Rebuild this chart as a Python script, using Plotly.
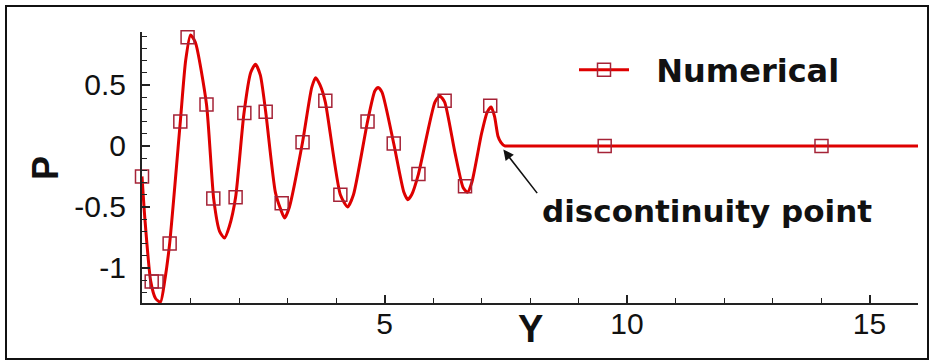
import plotly.graph_objects as go

# ---- data ----
curve_x = [0.00, 0.06, 0.18, 0.28, 0.38, 0.47, 0.57, 0.79, 0.90, 1.00, 1.10, 1.33, 1.48, 1.60, 1.70,
           1.80, 1.93, 2.10, 2.24, 2.34, 2.44, 2.55, 2.75, 2.86, 2.94, 3.04, 3.31, 3.50, 3.58, 3.67,
           3.78, 4.09, 4.24, 4.36, 4.65, 4.80, 4.87, 4.95, 5.19, 5.40, 5.48, 5.56, 5.70, 6.04, 6.14,
           6.24, 6.45, 6.62, 6.71, 6.80, 7.00, 7.12, 7.20, 7.27, 7.34, 7.40, 7.48, 7.56, 7.70, 15.8, 16.0]
curve_y = [-0.25, -0.60, -1.11, -1.25, -1.28, -1.10, -0.80, 0.20, 0.70, 0.91, 0.85, 0.34, -0.44, -0.70, -0.755,
           -0.66, -0.42, 0.26, 0.60, 0.67, 0.58, 0.28, -0.38, -0.52, -0.59, -0.50, 0.03, 0.48, 0.56, 0.50,
           0.36, -0.40, -0.50, -0.40, 0.20, 0.45, 0.48, 0.44, 0.02, -0.38, -0.44, -0.40, -0.23, 0.36, 0.41,
           0.36, -0.05, -0.34, -0.38, -0.30, 0.10, 0.28, 0.32, 0.24, 0.08, 0.03, 0.00, 0.00, 0.00, 0.00, 0.00]

marker_x = [0.00, 0.20, 0.30, 0.57, 0.79, 0.94, 1.33, 1.47, 1.93, 2.11, 2.55, 2.88, 3.31, 3.78, 4.09,
            4.65, 5.19, 5.70, 6.24, 6.66, 7.18, 9.54, 14.01]
marker_y = [-0.25, -1.11, -1.11, -0.80, 0.20, 0.89, 0.34, -0.43, -0.42, 0.27, 0.28, -0.47, 0.03, 0.37, -0.40,
            0.20, 0.02, -0.23, 0.37, -0.33, 0.33, 0.00, 0.00]

x_tickvals = [5, 10, 15]
x_ticktext = ["5", "10", "15"]
y_tickvals = [-1, -0.5, 0, 0.5]
y_ticktext = ["-1", "-0.5", "0", "0.5"]

series_name = "Numerical"
x_title = "Y"
y_title = "P"
note_text = "discontinuity point"

LINE_RED = "rgb(222,0,0)"
MARK_RED = "rgb(165,35,55)"

fig = go.Figure()
fig.add_trace(go.Scatter(x=curve_x, y=curve_y, mode="lines",
                         line=dict(color=LINE_RED, width=3, shape="spline", smoothing=0.6),
                         showlegend=False, hoverinfo="skip"))
fig.add_trace(go.Scatter(x=marker_x, y=marker_y, mode="markers", cliponaxis=False,
                         marker=dict(symbol="square-open", size=13, color=MARK_RED,
                                     line=dict(color=MARK_RED, width=1.5)),
                         showlegend=False))
# legend-only entry (line + marker sample); leading no-break spaces widen the gap before the text
fig.add_trace(go.Scatter(x=[None], y=[None], mode="lines+markers",
                         name="\u00a0\u00a0" + series_name,
                         line=dict(color=LINE_RED, width=3),
                         marker=dict(symbol="square-open", size=13, color=MARK_RED,
                                     line=dict(color=MARK_RED, width=1.5))))

L, R, T, B = 142, 15, 32, 61
W, H = 933, 364
pw, ph = W - L - R, H - T - B

def px2paper_x(px):
    return (px - L) / pw

def px2paper_y(py):
    return (H - B - py) / ph

fig.update_layout(
    width=W, height=H,
    margin=dict(l=L, r=R, t=T, b=B, pad=0),
    paper_bgcolor="white", plot_bgcolor="white",
    showlegend=True,
    legend=dict(x=px2paper_x(574), y=px2paper_y(70), xanchor="left", yanchor="middle",
                bgcolor="rgba(0,0,0,0)", borderwidth=0, itemwidth=50,
                font=dict(family="DejaVu Sans", size=32, color="#111", weight="bold")),
    xaxis=dict(range=[0, 16], showgrid=False, zeroline=False,
               showline=True, linecolor="#222", linewidth=2,
               tickmode="array", tickvals=x_tickvals, ticktext=x_ticktext,
               ticks="inside", ticklen=8, tickwidth=1.5, tickcolor="#222",
               ticklabelstandoff=-7,
               minor=dict(tickmode="linear", tick0=0, dtick=1, ticks="inside", ticklen=5,
                          tickwidth=1.2, tickcolor="#222"),
               tickfont=dict(family="Liberation Sans", size=30, color="#111")),
    yaxis=dict(range=[-1.287, 0.934], showgrid=False, zeroline=False,
               showline=True, linecolor="#222", linewidth=2,
               tickmode="array", tickvals=y_tickvals, ticktext=y_ticktext,
               ticks="inside", ticklen=8, tickwidth=1.5, tickcolor="#222",
               ticklabelstandoff=8,
               minor=dict(tickmode="linear", tick0=0, dtick=0.1, ticks="inside", ticklen=5,
                          tickwidth=1.2, tickcolor="#222"),
               tickfont=dict(family="Liberation Sans", size=30, color="#111")),
    shapes=[dict(type="rect", xref="paper", yref="paper",
                 x0=px2paper_x(6), x1=px2paper_x(928), y0=px2paper_y(359), y1=px2paper_y(6),
                 line=dict(color="#111", width=2), fillcolor="rgba(0,0,0,0)", layer="below")],
    annotations=[
        dict(text=x_title, xref="paper", yref="paper", x=px2paper_x(530), y=px2paper_y(329),
             xanchor="center", yanchor="middle", showarrow=False,
             font=dict(family="Liberation Sans", size=38, color="#111", weight="bold")),
        dict(text=y_title, xref="paper", yref="paper", x=px2paper_x(45), y=px2paper_y(168),
             xanchor="center", yanchor="middle", textangle=-90, showarrow=False,
             font=dict(family="Liberation Sans", size=36, color="#111", weight="bold")),
        dict(text=note_text, xref="paper", yref="paper", x=px2paper_x(707), y=px2paper_y(211),
             xanchor="center", yanchor="middle", showarrow=False,
             font=dict(family="DejaVu Sans", size=31, color="#111", weight="bold")),
        dict(text="", x=7.45, y=-0.03, xref="x", yref="y", ax=35, ay=45,
             showarrow=True, arrowhead=2, arrowsize=1.3, arrowwidth=1.6, arrowcolor="#111"),
    ],
)

fig.write_html("out.html", post_script="document.body.style.margin='0';",
               config={"displayModeBar": False})
